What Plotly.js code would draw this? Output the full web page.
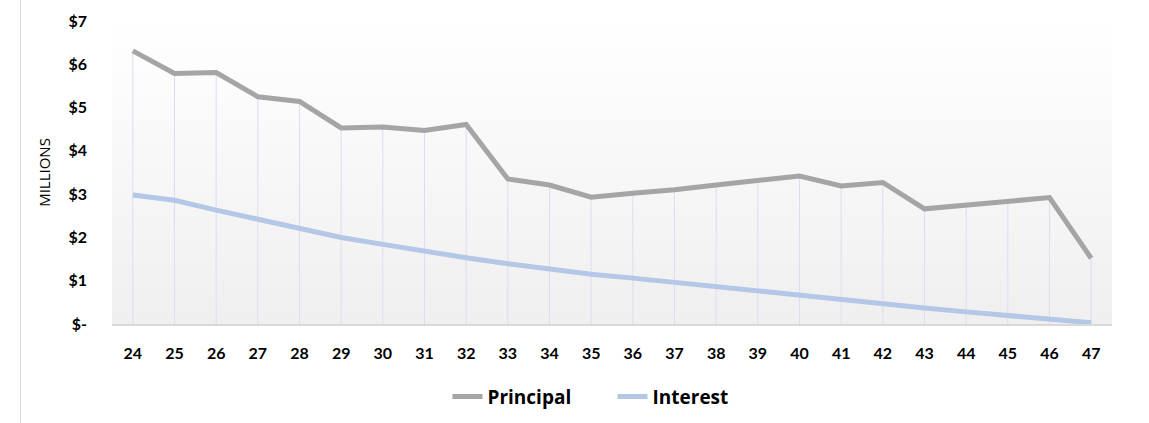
<!DOCTYPE html>
<html>
<head>
<meta charset="utf-8">
<script src="https://cdn.plot.ly/plotly-3.0.1.min.js"></script>
<style>
  html, body { margin: 0; padding: 0; background: #ffffff; }
  #wrap { position: relative; width: 1149px; height: 423px; }
  #chart { width: 1149px; height: 423px; }
  #edge { position: absolute; left: 20px; top: 0; width: 1px; height: 423px; background: #d9d9d9; }
</style>
</head>
<body>
<div id="wrap">
  <div id="chart"></div>
  <div id="edge"></div>
</div>
<script>
const years = ['24','25','26','27','28','29','30','31','32','33','34','35','36','37','38','39','40','41','42','43','44','45','46','47'];
const principal = [6.31,5.79,5.81,5.25,5.14,4.53,4.55,4.47,4.61,3.35,3.21,2.93,3.02,3.10,3.21,3.31,3.42,3.19,3.27,2.66,2.75,2.83,2.92,1.52];
const interest  = [2.98,2.86,2.63,2.42,2.21,2.00,1.84,1.68,1.53,1.39,1.26,1.15,1.06,0.96,0.86,0.77,0.65,0.55,0.46,0.37,0.28,0.19,0.11,0.03];
const yTickVals = [0,1,2,3,4,5,6,7];
const yTickText = ['$-','$1','$2','$3','$4','$5','$6','$7'];

const FONT = 'Lato, "Open Sans", "DejaVu Sans", sans-serif';
const LEGEND_FONT = '"Open Sans", Lato, sans-serif';

// drop lines from each Principal point down to the axis (category index positions)
const dropLines = years.map((c, i) => ({
  type: 'line', xref: 'x', yref: 'y', layer: 'below',
  x0: i, x1: i, y0: 0, y1: principal[i],
  line: { color: '#dcdcf4', width: 1 }
}));

const svgGrad = '<svg xmlns="http://www.w3.org/2000/svg" width="100" height="100" preserveAspectRatio="none">' +
  '<defs><linearGradient id="g" x1="0" y1="0" x2="0" y2="1">' +
  '<stop offset="0" stop-color="#ffffff"/><stop offset="1" stop-color="#efefef"/>' +
  '</linearGradient></defs><rect width="100" height="100" fill="url(#g)"/></svg>';

const traces = [
  {
    x: years, y: principal, name: 'Principal', type: 'scatter', mode: 'lines',
    line: { color: '#a5a5a5', width: 5 }, hoverinfo: 'x+y'
  },
  {
    x: years, y: interest, name: 'Interest', type: 'scatter', mode: 'lines',
    line: { color: '#b4c7e7', width: 5 }, hoverinfo: 'x+y'
  }
];

const layout = {
  width: 1149, height: 423,
  margin: { l: 112, r: 37, t: 21, b: 99, autoexpand: false },
  paper_bgcolor: 'rgba(0,0,0,0)',
  plot_bgcolor: 'rgba(0,0,0,0)',
  font: { family: FONT, color: '#000000' },
  showlegend: true,
  legend: {
    orientation: 'h', x: 0.5005, xanchor: 'center', y: -0.24, yanchor: 'middle',
    font: { family: LEGEND_FONT, size: 19, color: '#000000', weight: 'bold' },
    bgcolor: 'rgba(0,0,0,0)', traceorder: 'normal', entrywidth: 120
  },
  xaxis: {
    type: 'category', range: [-0.5, 23.5], fixedrange: true,
    showgrid: false, zeroline: false,
    showline: true, linecolor: '#d9d9d9', linewidth: 1.5,
    ticks: '', ticklabelstandoff: 14,
    tickfont: { family: FONT, size: 16, color: '#000000', weight: 'bold' }
  },
  yaxis: {
    range: [0, 7], fixedrange: true,
    tickvals: yTickVals, ticktext: yTickText,
    showgrid: false, zeroline: false, showline: false,
    ticks: '', ticklabelstandoff: 24,
    tickfont: { family: FONT, size: 16, color: '#000000', weight: 'bold' },
    title: { text: 'MILLIONS', font: { family: '"Open Sans", sans-serif', size: 15, color: '#000000' }, standoff: 14 }
  },
  shapes: dropLines,
  images: [{
    source: 'data:image/svg+xml;charset=utf-8,' + encodeURIComponent(svgGrad),
    xref: 'paper', yref: 'paper', x: 0, y: 1, sizex: 1, sizey: 1,
    xanchor: 'left', yanchor: 'top', sizing: 'stretch', layer: 'below'
  }]
};

Plotly.newPlot('chart', traces, layout, { displayModeBar: false, staticPlot: true });
</script>
</body>
</html>
